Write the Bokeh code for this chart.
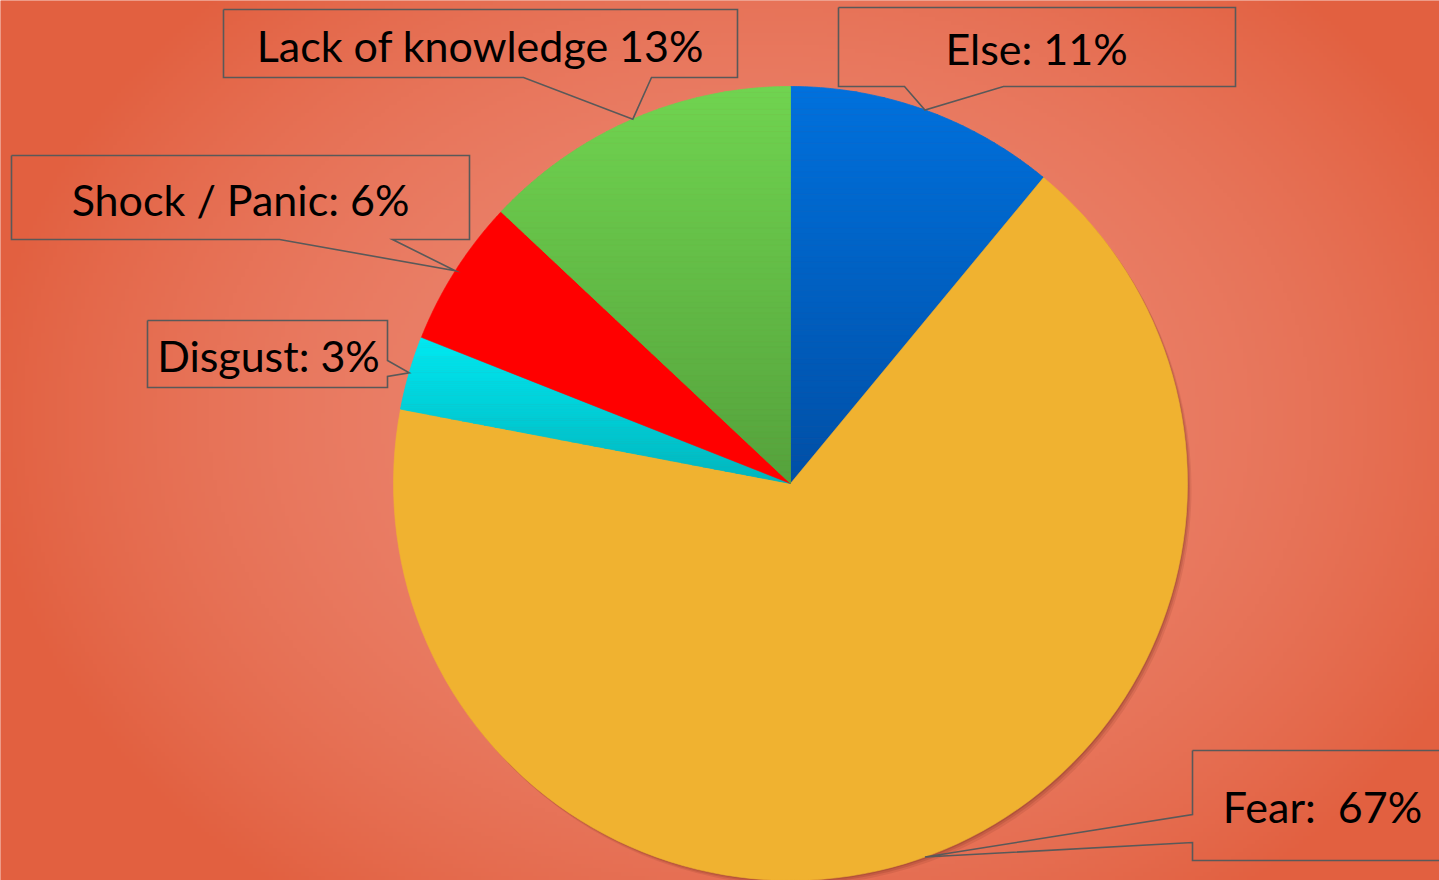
import numpy as np
from bokeh.plotting import figure
from bokeh.models import Range1d
from bokeh.core.properties import value
from bokeh.embed import file_html
from bokeh.resources import INLINE

# ---------------- data ----------------
categories = ["Else", "Fear", "Disgust", "Shock / Panic", "Lack of knowledge"]
values = [11, 67, 3, 6, 13]
label_texts = ["Else: 11%", "Fear: \u00a067%", "Disgust: 3%", "Shock / Panic: 6%", "Lack of knowledge 13%"]
top_colors = ["#0071DD", "#F0B230", "#00E9F2", "#FF0000", "#70D450"]
bottom_colors = ["#004FA6", "#F0B230", "#00B6BE", "#FF0000", "#55A23C"]

# ---------------- layout ----------------
W, H = 1439, 880
CX, CY, R = 790.0, H - 483.0, 397.0

# callout boxes in screen pixels: left, top, right, bottom, side, notch start, notch end
boxes = [
    (838, 7, 1235, 86, "bottom", 904, 1003),
    (1192, 750, 1450, 860, "left", 814, 842),
    (147, 320, 387, 387, "right", 360, 376),
    (11, 155, 469, 239, "bottom", 279, 392),
    (223, 9, 737, 77, "bottom", 523, 651),
]
text_pos = [(1036, 48), (1322, 806), (268, 355), (240, 199), (480, 45)]


def hex2rgb(h):
    h = h.lstrip("#")
    return np.array([int(h[i:i + 2], 16) for i in (0, 2, 4)], dtype=float)


def rgb2hex(c):
    return "#%02x%02x%02x" % tuple(int(round(v)) for v in c)


p = figure(width=W, height=H, x_range=Range1d(0, W), y_range=Range1d(0, H),
           output_backend="svg", toolbar_location=None,
           x_axis_location=None, y_axis_location=None, min_border=0,
           outline_line_color=None)
p.xgrid.visible = False
p.ygrid.visible = False
p.background_fill_color = "#E36345"
p.border_fill_color = "#E36345"

# ---------------- background radial gradient ----------------
ny, nx = 220, 360
xs = (np.arange(nx) + 0.5) / nx * W
ys = (np.arange(ny) + 0.5) / ny * H
X, Y = np.meshgrid(xs, ys)
d = np.sqrt(((X - 760) / 780.0) ** 2 + ((Y - 420) / 600.0) ** 2)
t = np.clip(d, 0, 1) ** 2
c0 = np.array([236, 134, 112], dtype=float)
c1 = np.array([226, 96, 64], dtype=float)
rgb = c0[None, None, :] * (1 - t[..., None]) + c1[None, None, :] * t[..., None]
rgb = rgb[::-1]
img = np.empty((ny, nx), dtype=np.uint32)
view = img.view(dtype=np.uint8).reshape((ny, nx, 4))
view[..., 0] = rgb[..., 0].astype(np.uint8)
view[..., 1] = rgb[..., 1].astype(np.uint8)
view[..., 2] = rgb[..., 2].astype(np.uint8)
view[..., 3] = 255
p.image_rgba(image=[img], x=0, y=0, dw=W, dh=H)

# ---------------- pie ----------------
total = float(sum(values))
fr = np.array(values, dtype=float) / total
cum_end = np.cumsum(fr)
cum_start = cum_end - fr


def wedge_poly(f0, f1, n=120):
    th = np.linspace(f0, f1, n) * 2 * np.pi
    xs_ = [CX] + list(CX + R * np.sin(th)) + [CX]
    ys_ = [CY] + list(CY + R * np.cos(th)) + [CY]
    return list(zip(xs_, ys_))


def clip_half(poly, yv, keep_above):
    out = []
    n = len(poly)
    for i in range(n):
        a = poly[i]
        b = poly[(i + 1) % n]
        ina = a[1] >= yv if keep_above else a[1] <= yv
        inb = b[1] >= yv if keep_above else b[1] <= yv
        if ina:
            out.append(a)
        if ina != inb:
            tt = (yv - a[1]) / (b[1] - a[1])
            out.append((a[0] + tt * (b[0] - a[0]), yv))
    return out


# soft shadow
for off, al in [((4, -5), 0.10), ((2.5, -3), 0.14), ((1.2, -1.5), 0.18)]:
    p.circle(x=[CX + off[0]], y=[CY + off[1]], radius=R, fill_color="#5a1e10",
             fill_alpha=al, line_color=None)

for i in range(len(values)):
    poly = wedge_poly(cum_start[i], cum_end[i])
    ctop, cbot = hex2rgb(top_colors[i]), hex2rgb(bottom_colors[i])
    if top_colors[i] == bottom_colors[i]:
        p.patch(x=[q[0] for q in poly], y=[q[1] for q in poly], fill_color=top_colors[i],
                line_color=top_colors[i], line_width=0.6)
        continue
    ymax = max(q[1] for q in poly)
    ymin = min(q[1] for q in poly)
    nb = 70
    edges = np.linspace(ymax, ymin, nb + 1)
    pxs, pys, cols = [], [], []
    for k in range(nb):
        band = clip_half(poly, edges[k], keep_above=False)
        band = clip_half(band, edges[k + 1], keep_above=True)
        if len(band) < 3:
            continue
        tt = (k + 0.5) / nb
        col = rgb2hex(ctop * (1 - tt) + cbot * tt)
        pxs.append([q[0] for q in band])
        pys.append([q[1] for q in band])
        cols.append(col)
    p.patches(xs=pxs, ys=pys, fill_color=cols, line_color=cols, line_width=0.8)

# ---------------- callouts ----------------
mid = (cum_start + cum_end) / 2 * 2 * np.pi
tips = [(CX + R * np.sin(a), CY + R * np.cos(a)) for a in mid]

for i, (l, tp, r, b, side, n1, n2) in enumerate(boxes):
    tx, ty = tips[i]
    tpy = H - ty
    if side == "bottom":
        path = [(l, tp), (r, tp), (r, b), (n2, b), (tx, tpy), (n1, b), (l, b), (l, tp)]
    elif side == "left":
        path = [(l, tp), (r, tp), (r, b), (l, b), (l, n2), (tx, tpy), (l, n1), (l, tp)]
    else:
        path = [(l, tp), (r, tp), (r, n1), (tx, tpy), (r, n2), (r, b), (l, b), (l, tp)]
    p.line(x=[q[0] for q in path], y=[H - q[1] for q in path], line_color="#595959",
           line_width=1.6, line_join="miter")

p.text(x=[q[0] for q in text_pos], y=[H - q[1] for q in text_pos], text=label_texts,
       text_font=value("Lato"), text_font_size="43px", text_color="#000000",
       text_align="center", text_baseline="middle")

open("out.html", "w").write(file_html(p, INLINE))
